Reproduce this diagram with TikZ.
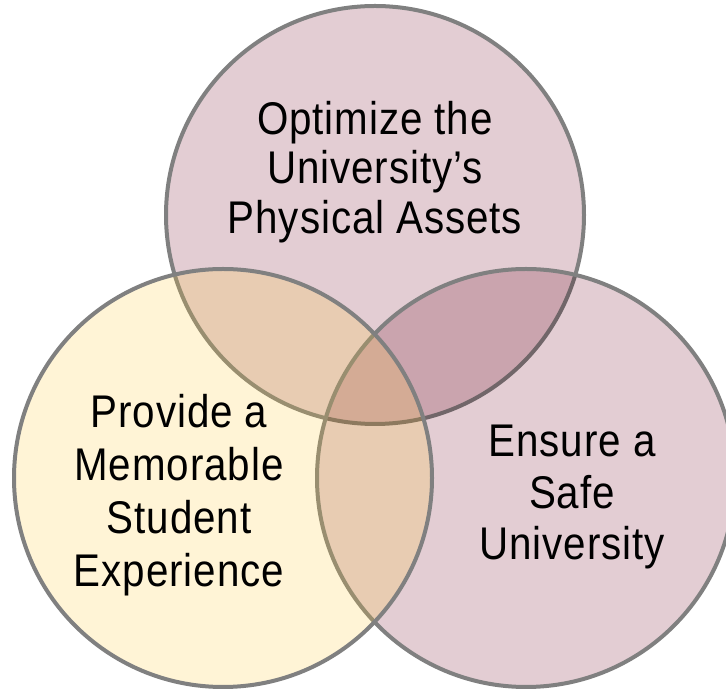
\documentclass[tikz,border=0pt]{standalone}
\usepackage{fontspec}
\setmainfont{Liberation Sans}[FakeStretch=0.88,LetterSpace=2]
\usepackage{tikz}
\usetikzlibrary{positioning}
\definecolor{rosefill}{HTML}{E3CDD3}
\definecolor{goldfill}{HTML}{FFC832}
\definecolor{ringgray}{HTML}{808080}
\tikzstyle{wash}=[circle,minimum size=418bp,inner sep=0pt,outer sep=0pt]
\tikzstyle{ring}=[draw=ringgray,line width=4bp]
\tikzstyle{every node}=[font=\fontsize{46}{50}\selectfont]
\tikzstyle{goal}=[align=center,inner sep=0pt]

\begin{document}
\begin{tikzpicture}[x=1bp,y=1bp]
    \useasboundingbox (0,0) rectangle (726,691);
    % the three circles, each washed over the ones before
    \node[wash, fill=rosefill] (assets) at (375,476) {};
    \draw[ring] (assets) circle[radius=209];
    \node[wash, fill=rosefill, blend mode=multiply] (safety) at (526,213) {};
    \draw[ring] (safety) circle[radius=209];
    \node[wash, fill=goldfill, fill opacity=0.2] (student) at (223,213) {};
    \draw[ring] (student) circle[radius=209];
    % labels
    \node[goal] (assetstext) at (375,519) {Optimize the\\University's\\Physical Assets};
    \node[goal, font=\fontsize{46}{53}\selectfont] (studenttext) at (179,196) {Provide a\\Memorable\\Student\\Experience};
    \node[goal, font=\fontsize{46}{52}\selectfont] (safetytext) at (572,194) {Ensure a\\Safe\\University};
\end{tikzpicture}
\end{document}
